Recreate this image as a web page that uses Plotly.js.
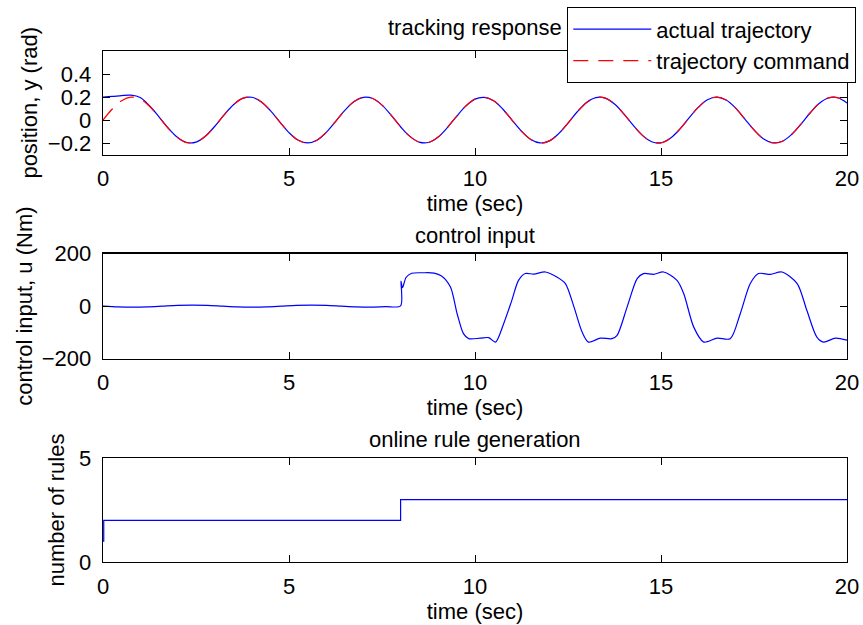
<!DOCTYPE html>
<html>
<head>
<meta charset="utf-8">
<script src="https://cdn.plot.ly/plotly-3.0.1.min.js"></script>
<style>html,body{margin:0;padding:0;background:#fff;}#chart{width:863px;height:625px;}</style>
</head>
<body>
<div id="chart"></div>
<script>
// ---- data ----
// tracking response (sampled every 0.25 s)
const tPos = [0,0.25,0.5,0.75,1,1.25,1.5,1.75,2,2.25,2.5,2.75,3,3.25,3.5,3.75,4,4.25,4.5,4.75,5,5.25,5.5,5.75,6,6.25,6.5,6.75,7,7.25,7.5,7.75,8,8.25,8.5,8.75,9,9.25,9.5,9.75,10,10.25,10.5,10.75,11,11.25,11.5,11.75,12,12.25,12.5,12.75,13,13.25,13.5,13.75,14,14.25,14.5,14.75,15,15.25,15.5,15.75,16,16.25,16.5,16.75,17,17.25,17.5,17.75,18,18.25,18.5,18.75,19,19.25,19.5,19.75,20];
const yCommand = [0,0.096,0.168,0.199,0.182,0.120,0.028,-0.070,-0.151,-0.196,-0.192,-0.141,-0.056,0.043,0.131,0.188,0.198,0.160,0.082,-0.015,-0.109,-0.176,-0.200,-0.175,-0.107,-0.013,0.084,0.161,0.198,0.187,0.130,0.041,-0.058,-0.142,-0.192,-0.195,-0.150,-0.068,0.030,0.121,0.183,0.199,0.167,0.094,-0.002,-0.097,-0.169,-0.200,-0.181,-0.118,-0.026,0.072,0.153,0.196,0.191,0.140,0.054,-0.045,-0.133,-0.188,-0.198,-0.158,-0.081,0.017,0.110,0.177,0.200,0.174,0.106,0.011,-0.086,-0.162,-0.198,-0.186,-0.129,-0.040,0.059,0.144,0.193,0.195,0.149];
const yActual = [0.200,0.205,0.213,0.216,0.196,0.124,0.030,-0.069,-0.150,-0.195,-0.192,-0.141,-0.056,0.043,0.131,0.188,0.198,0.160,0.082,-0.015,-0.109,-0.176,-0.199,-0.175,-0.107,-0.013,0.084,0.161,0.197,0.187,0.130,0.041,-0.058,-0.142,-0.192,-0.195,-0.150,-0.068,0.030,0.121,0.182,0.197,0.167,0.094,-0.002,-0.097,-0.169,-0.199,-0.181,-0.118,-0.026,0.072,0.153,0.195,0.191,0.140,0.054,-0.045,-0.133,-0.188,-0.197,-0.158,-0.081,0.017,0.110,0.177,0.199,0.174,0.106,0.011,-0.086,-0.162,-0.197,-0.186,-0.129,-0.040,0.059,0.144,0.192,0.194,0.149];

// control input
const tU = [0,0.4,0.8,1.2,1.6,2.0,2.4,2.8,3.2,3.6,4.0,4.4,4.8,5.2,5.6,6.0,6.4,6.8,7.2,7.6,8.0,8.01,8.05,8.15,8.3,8.6,8.9,9.1,9.34,9.52,9.69,9.83,10.14,10.37,10.55,10.77,10.99,11.17,11.35,11.58,11.89,12.2,12.43,12.66,12.88,13.05,13.37,13.68,13.82,14.09,14.36,14.53,14.8,15.07,15.43,15.61,15.88,16.15,16.51,16.86,17.13,17.4,17.62,17.94,18.25,18.66,18.92,19.19,19.37,19.69,20];
const uVal = [0,-3,-4,-3,0,3,4,3,0,-3,-4,-3,0,3,4,3,0,-3,-4,-2,1,95,70,110,125,127,126,115,73,-29,-105,-124,-122,-120,-137,-67,22,98,124,122,130,111,86,-3,-99,-137,-122,-124,-111,-3,105,124,121,130,98,48,-80,-137,-122,-124,-29,86,124,121,130,86,-16,-118,-137,-122,-130];

// online rule generation
const tRules = [0,0.02,8,20];
const nRules = [1,2,3,3];

// ---- labels ----
const titles = ['tracking response','control input','online rule generation'];
const xLabel = 'time (sec)';
const yLabels = ['position, y (rad)','control input, u (Nm)','number of rules'];
const legendNames = ['actual trajectory','trajectory command'];

const FONT = 'Liberation Sans, Arial, Helvetica, sans-serif';
const FS = 22;

const traces = [
  {x:tPos, y:yActual, xaxis:'x', yaxis:'y', type:'scatter', mode:'lines', name:legendNames[0],
   line:{color:'rgb(0,0,255)', width:1.2, shape:'spline'}},
  {x:tPos, y:yCommand, xaxis:'x', yaxis:'y', type:'scatter', mode:'lines', name:legendNames[1],
   line:{color:'rgb(255,0,0)', width:1.2, dash:'15px,10px', shape:'spline'}},
  {x:tU, y:uVal, xaxis:'x2', yaxis:'y2', type:'scatter', mode:'lines', showlegend:false,
   line:{color:'rgb(0,0,255)', width:1.2, shape:'spline', smoothing:0.8}},
  {x:tRules, y:nRules, xaxis:'x3', yaxis:'y3', type:'scatter', mode:'lines', showlegend:false,
   line:{color:'rgb(0,0,255)', width:1.2, shape:'hv'}}
];

function xa(anchor){
  return {anchor:anchor, domain:[0,1], range:[0,20], tickvals:[0,5,10,15,20], ticks:'inside', ticklen:7,
    tickcolor:'black', showline:true, linecolor:'black', linewidth:1.3, mirror:'ticks',
    showgrid:false, zeroline:false, ticklabelstandoff:4,
    tickfont:{family:FONT,size:FS,color:'black'},
    title:{text:xLabel, font:{family:FONT,size:FS,color:'black'}, standoff:2}};
}
function ya(anchor, dom, rng, vals, label, stand){
  return {anchor:anchor, domain:dom, range:rng, tickvals:vals, ticks:'inside', ticklen:7,
    tickcolor:'black', showline:true, linecolor:'black', linewidth:1.3, mirror:'ticks',
    showgrid:false, zeroline:false, ticklabelstandoff:6,
    tickfont:{family:FONT,size:FS,color:'black'},
    title:{text:label, font:{family:FONT,size:FS,color:'black'}, standoff:stand}};
}

const layout = {
  width:863, height:625,
  margin:{l:103, r:16, t:51, b:63, pad:0, autoexpand:false},
  paper_bgcolor:'white', plot_bgcolor:'white',
  font:{family:FONT, size:FS, color:'black'},
  showlegend:true,
  legend:{xref:'container', yref:'container', x:567/863, y:1-7/625, xanchor:'left', yanchor:'top',
    bordercolor:'black', borderwidth:1.3, bgcolor:'white', itemwidth:78,
    font:{family:FONT, size:FS, color:'black'}, tracegroupgap:0},
  xaxis:xa('y'),
  xaxis2:xa('y2'),
  xaxis3:xa('y3'),
  yaxis:ya('x',[0.7973,1],[-0.3,0.6],[-0.2,0,0.2,0.4],yLabels[0],4),
  yaxis2:ya('x2',[0.398,0.6035],[-200,200],[-200,0,200],yLabels[1],3),
  yaxis3:ya('x3',[0,0.2035],[0,5],[0,5],yLabels[2],8),
  annotations:[
    {text:titles[0], xref:'paper', yref:'paper', x:0.5, y:(562-27)/511, xanchor:'center', yanchor:'middle', showarrow:false, font:{family:FONT,size:FS,color:'black'}},
    {text:titles[1], xref:'paper', yref:'paper', x:0.5, y:(562-235)/511, xanchor:'center', yanchor:'middle', showarrow:false, font:{family:FONT,size:FS,color:'black'}},
    {text:titles[2], xref:'paper', yref:'paper', x:0.5, y:(562-439)/511, xanchor:'center', yanchor:'middle', showarrow:false, font:{family:FONT,size:FS,color:'black'}}
  ]
};

Plotly.newPlot('chart', traces, layout, {displayModeBar:false, staticPlot:true});
</script>
</body>
</html>
